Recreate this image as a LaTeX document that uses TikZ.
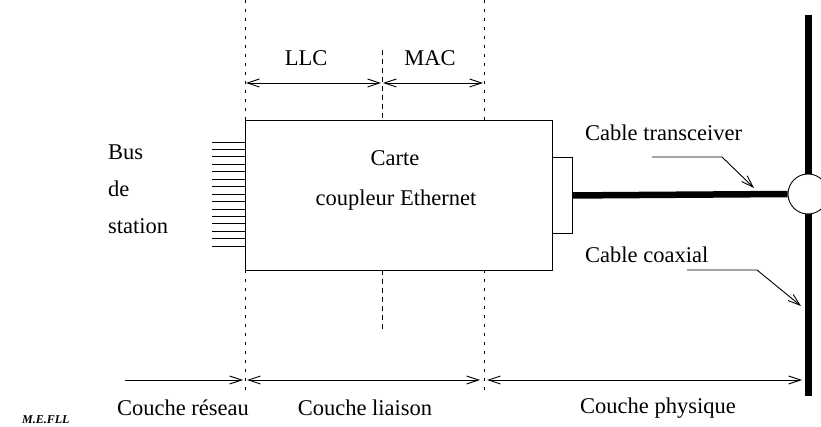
\documentclass[tikz,border=0pt]{standalone}
\usepackage{fontspec}
\setmainfont{Liberation Serif}
\usetikzlibrary{arrows.meta}
\begin{document}
\begin{tikzpicture}[x=1pt,y=-1pt,
  lbl/.style={font=\fontsize{22.5}{26}\selectfont, inner sep=0pt},
  thin/.style={line width=0.9pt},
  barb/.style={thin, arrows={Straight Barb[length=12pt,width=8pt]-Straight Barb[length=12pt,width=8pt]}},
  barbend/.style={thin, -{Straight Barb[length=12pt,width=8pt]}},
  guide/.style={line width=0.9pt, dash pattern=on 3pt off 6pt},
  midguide/.style={line width=0.9pt, dash pattern=on 5pt off 4pt},
  heavy/.style={line width=7pt}]
\useasboundingbox (0,0) rectangle (821,427);

% adapter card, connector plate and transceiver tap
\node[draw, thin, minimum width=307pt, minimum height=150pt, anchor=north west, inner sep=0pt] (card) at (245,120) {};
\node[draw, thin, minimum width=20pt, minimum height=76pt, anchor=north west, inner sep=0pt, fill=white] (plug) at (552,157) {};
\node[draw, thin, circle, minimum size=40pt, inner sep=0pt] (tap) at (808,194) {};

\node[lbl] (carte) at (395,158) {Carte};
\node[lbl] (coupleur) at (396,200) {coupleur Ethernet};

% coaxial bus and transceiver cable
\coordinate (busTop) at (808,15);
\coordinate (busBot) at (808,396);
\draw[heavy] (busTop) -- (tap.north);
\draw[heavy] (tap.south) -- (busBot);
\draw[line width=6.5pt] (plug.east) -- (tap.west);

% station bus pins
\foreach \i in {0,...,14}{
  \draw[thin] (212,{142+7.45*\i}) -- (245,{142+7.45*\i});
}
\node[lbl, anchor=west] (bus) at (108,152) {Bus};
\node[lbl, anchor=west] (de) at (108,189) {de};
\node[lbl, anchor=west] (station) at (108,226) {station};

% layer boundaries (not drawn through the card)
\coordinate (gA) at (245,0);   \coordinate (gAb) at (245,393);
\coordinate (gC) at (484,0);   \coordinate (gCm) at (484,120);
\coordinate (gC2) at (484,270); \coordinate (gCb) at (484,393);
\coordinate (gB) at (382,50);  \coordinate (gBb) at (382,120);
\coordinate (gB2) at (382,270); \coordinate (gB2b) at (382,332);
\draw[guide] (gA) -- (gAb);
\draw[guide] (gC) -- (gCm);
\draw[guide] (gC2) -- (gCb);
\draw[midguide] (gB) -- (gBb);
\draw[midguide] (gB2) -- (gB2b);

% LLC / MAC sublayers
\coordinate (llcL) at (246,83); \coordinate (llcR) at (381,83);
\coordinate (macL) at (383,83); \coordinate (macR) at (483,83);
\draw[barb] (llcL) -- (llcR);
\draw[barb] (macL) -- (macR);
\node[lbl] (llc) at (306,58) {LLC};
\node[lbl] (mac) at (430,58) {MAC};

% cable labels with pointers
\node[lbl, anchor=west] (trans) at (585,133) {Cable transceiver};
\node[lbl, anchor=west] (coax) at (585,255) {Cable coaxial};
\coordinate (tp0) at (652,157); \coordinate (tp1) at (722,157); \coordinate (tp2) at (754,188);
\draw[barbend] (tp0) -- (tp1) -- (tp2);
\coordinate (cp0) at (687,270); \coordinate (cp1) at (757,270); \coordinate (cp2) at (801,306);
\draw[barbend] (cp0) -- (cp1) -- (cp2);

% layer spans along the bottom
\coordinate (r0) at (125,380); \coordinate (r1) at (243,380);
\coordinate (l0) at (247,380); \coordinate (l1) at (480,380);
\coordinate (p0) at (487,380); \coordinate (p1) at (802,380);
\draw[barbend] (r0) -- (r1);
\draw[barb] (l0) -- (l1);
\draw[barb] (p0) -- (p1);
\node[lbl] (reseau) at (183,408) {Couche réseau};
\node[lbl] (liaison) at (365,408) {Couche liaison};
\node[lbl] (physique) at (658,408) {Couche physique};

\node[font=\fontsize{12}{13}\selectfont\bfseries\itshape, inner sep=0pt, anchor=base west] (author) at (22,423) {M.E.FLL};
\end{tikzpicture}
\end{document}
